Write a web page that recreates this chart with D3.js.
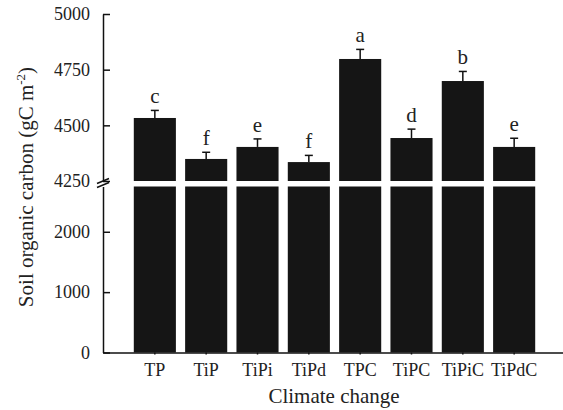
<!DOCTYPE html>
<html>
<head>
<meta charset="utf-8">
<script src="https://cdn.jsdelivr.net/npm/d3@7"></script>
<style>
  body { margin: 0; background: #fff; }
  svg { display: block; font-family: "Liberation Serif", "Times New Roman", serif; }
  .axis text { font-size: 18px; fill: #222; font-family: "Liberation Serif", serif; }
  .axis path, .axis line { stroke: #111; stroke-width: 1.5; }
</style>
</head>
<body>
<svg width="563" height="410"></svg>
<script>
'use strict';

var categories = ['TP', 'TiP', 'TiPi', 'TiPd', 'TPC', 'TiPC', 'TiPiC', 'TiPdC'];
var soc = [4533, 4349, 4403, 4335, 4798, 4443, 4699, 4403];
var errs = [34, 30, 36, 30, 43, 40, 43, 39];
var letters = ['c', 'f', 'e', 'f', 'a', 'd', 'b', 'e'];
var upperTicks = [4250, 4500, 4750, 5000];
var lowerTicks = [0, 1000, 2000];

var data = categories.map(function(c, i) {
    return {name: c, value: soc[i], err: errs[i], letter: letters[i]};
});

var svg = d3.select('svg'),
    axisX = 103,
    barColor = '#151515',
    fmt = d3.format('d');

var x = d3.scaleBand()
    .domain(categories)
    .range([axisX, 566])
    .paddingInner(0.18)
    .paddingOuter(0.6);

// broken y axis: two linear pieces
var yTop = d3.scaleLinear().domain([4250, 5000]).range([181, 14]);
var yLow = d3.scaleLinear().domain([0, 2750]).range([352.5, 186.5]);

// bars, lower piece
svg.append('g').selectAll('rect')
    .data(data)
    .enter().append('rect')
    .attr('x', function(d) { return x(d.name); })
    .attr('width', x.bandwidth())
    .attr('y', yLow(2750))
    .attr('height', yLow(0) - yLow(2750))
    .attr('fill', barColor);

// bars, upper piece
svg.append('g').selectAll('rect')
    .data(data)
    .enter().append('rect')
    .attr('x', function(d) { return x(d.name); })
    .attr('width', x.bandwidth())
    .attr('y', function(d) { return yTop(d.value); })
    .attr('height', function(d) { return yTop(4250) - yTop(d.value); })
    .attr('fill', barColor);

// error bars
var eb = svg.append('g').attr('stroke', '#111').attr('stroke-width', 1.5);
data.forEach(function(d) {
    var cx = x(d.name) + x.bandwidth() / 2;
    eb.append('line')
        .attr('x1', cx).attr('x2', cx)
        .attr('y1', yTop(d.value)).attr('y2', yTop(d.value + d.err));
    eb.append('line')
        .attr('x1', cx - 4).attr('x2', cx + 4)
        .attr('y1', yTop(d.value + d.err)).attr('y2', yTop(d.value + d.err));
});

// significance letters
svg.append('g').selectAll('text')
    .data(data)
    .enter().append('text')
    .attr('x', function(d) { return x(d.name) + x.bandwidth() / 2; })
    .attr('y', function(d) { return yTop(d.value + d.err) - 7; })
    .attr('text-anchor', 'middle')
    .attr('font-size', 21)
    .attr('fill', '#222')
    .text(function(d) { return d.letter; });

// y axes
svg.append('g')
    .attr('class', 'axis')
    .attr('transform', 'translate(' + axisX + ',0)')
    .call(d3.axisLeft(yTop).tickValues(upperTicks).tickFormat(fmt)
        .tickSizeInner(-7).tickSizeOuter(0).tickPadding(13));

svg.append('g')
    .attr('class', 'axis')
    .attr('transform', 'translate(' + axisX + ',0)')
    .call(d3.axisLeft(yLow).tickValues(lowerTicks).tickFormat(fmt)
        .tickSizeInner(-7).tickSizeOuter(0).tickPadding(13));

// break marks
var brk = svg.append('g').attr('stroke', '#111').attr('stroke-width', 1.5);
[181, 185].forEach(function(yy) {
    brk.append('line')
        .attr('x1', axisX - 6).attr('y1', yy + 2.5)
        .attr('x2', axisX + 6).attr('y2', yy - 2.5);
});

// x axis
svg.append('g')
    .attr('class', 'axis')
    .attr('transform', 'translate(0,' + yLow(0) + ')')
    .call(d3.axisBottom(x).tickSizeInner(2).tickSizeOuter(0).tickPadding(9));

// axis titles
svg.append('text')
    .attr('x', 334)
    .attr('y', 403)
    .attr('text-anchor', 'middle')
    .attr('font-size', 21)
    .attr('fill', '#222')
    .text('Climate change');

var yl = svg.append('text')
    .attr('transform', 'translate(33,187) rotate(-90)')
    .attr('text-anchor', 'middle')
    .attr('font-size', 21)
    .attr('fill', '#222');
yl.append('tspan').text('Soil organic carbon (gC m');
yl.append('tspan').attr('font-size', 13).attr('dy', -8).text('-2');
yl.append('tspan').attr('dy', 8).text(')');
</script>
</body>
</html>
